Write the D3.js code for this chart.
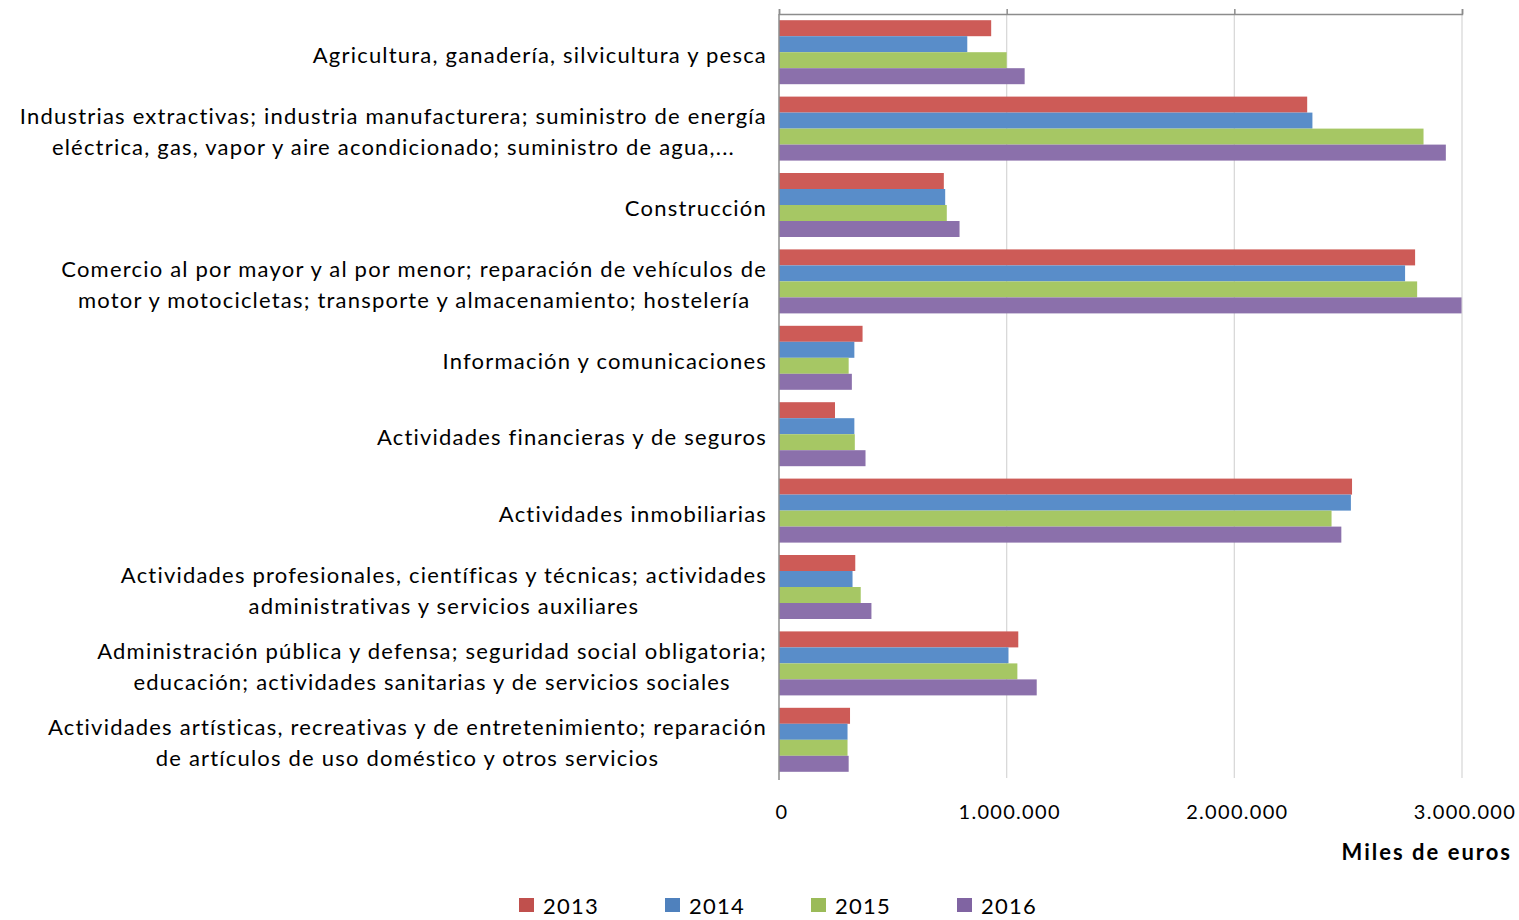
<!DOCTYPE html>
<html>
<head>
<meta charset="utf-8">
<script src="https://cdn.jsdelivr.net/npm/d3@7"></script>
<style>
  body { margin: 0; background: #fff; }
  svg { display: block; font-family: Lato, "Open Sans", sans-serif; }
</style>
</head>
<body>
<div id="chart"></div>
<script>
// sectores (miles de euros), 2013-2016
const categories = [
  ["Agricultura, ganadería, silvicultura y pesca"],
  ["Industrias extractivas; industria manufacturera; suministro de energía", "eléctrica, gas, vapor y aire acondicionado; suministro de agua,..."],
  ["Construcción"],
  ["Comercio al por mayor y al por menor; reparación de vehículos de", "motor y motocicletas; transporte y almacenamiento; hostelería"],
  ["Información y comunicaciones"],
  ["Actividades financieras y de seguros"],
  ["Actividades inmobiliarias"],
  ["Actividades profesionales, científicas y técnicas; actividades", "administrativas y servicios auxiliares"],
  ["Administración pública y defensa; seguridad social obligatoria;", "educación; actividades sanitarias y de servicios sociales"],
  ["Actividades artísticas, recreativas y de entretenimiento; reparación", "de artículos de uso doméstico y otros servicios"]
];
const years = ["2013", "2014", "2015", "2016"];
const v2013 = [932000, 2320000, 724000, 2794000, 367000, 246000, 2517000, 335000, 1051000, 312000];
const v2014 = [827000, 2343000, 730000, 2750000, 331000, 331000, 2512000, 323000, 1008000, 301000];
const v2015 = [1000000, 2831000, 737000, 2803000, 306000, 333000, 2427000, 359000, 1047000, 301000];
const v2016 = [1079000, 2929000, 793000, 2998000, 320000, 380000, 2470000, 406000, 1132000, 306000];
const xTicks = [0, 1000000, 2000000, 3000000];

const series = [v2013, v2014, v2015, v2016];
const colors = ["#CD5B57", "#598DC9", "#A6C764", "#8B70AB"];
const legendColors = ["#C0504D", "#4F81BD", "#9BBB59", "#8064A2"];

const width = 1519, height = 920;
const svg = d3.select("#chart").append("svg")
    .attr("width", width)
    .attr("height", height);

const x = d3.scaleLinear().domain([0, 3000000]).range([779, 1462]);
const y = d3.scaleBand().domain(d3.range(categories.length)).range([14, 778]);
const yInner = d3.scaleBand().domain(d3.range(years.length))
    .range([6.2, y.bandwidth() - 6.2]);

const fmt = d => d3.format(",")(d).replace(/,/g, ".");

// gridlines
svg.append("g").selectAll("line")
  .data(xTicks.slice(1))
  .join("line")
    .attr("x1", d => x(d)).attr("x2", d => x(d))
    .attr("y1", 14).attr("y2", 778)
    .attr("stroke", "#d9d9d9").attr("stroke-width", 1.3);

// bars
const groups = svg.append("g").selectAll("g")
  .data(categories)
  .join("g")
    .attr("transform", (d, i) => `translate(0,${y(i)})`);

groups.selectAll("rect")
  .data((d, i) => series.map((s, k) => ({k, v: s[i]})))
  .join("rect")
    .attr("x", x(0))
    .attr("y", d => yInner(d.k))
    .attr("width", d => x(d.v) - x(0))
    .attr("height", yInner.bandwidth())
    .attr("fill", d => colors[d.k]);

// top value axis (ticks only, labels drawn below)
const topAxis = svg.append("g")
    .attr("transform", "translate(0,14)")
    .call(d3.axisTop(x).tickValues(xTicks).tickSize(5).tickFormat(""));
topAxis.select(".domain").attr("stroke", "#8c8c8c").attr("stroke-width", 1.5);
topAxis.selectAll(".tick line").attr("stroke", "#8c8c8c").attr("stroke-width", 1.5);

// left category axis line
svg.append("line")
    .attr("x1", x(0)).attr("x2", x(0))
    .attr("y1", 14).attr("y2", 780)
    .attr("stroke", "#8c8c8c").attr("stroke-width", 1.5);

// tick labels at the bottom
svg.append("g").selectAll("text")
  .data(xTicks)
  .join("text")
    .attr("x", d => x(d) + 3)
    .attr("y", 819)
    .attr("text-anchor", "middle")
    .attr("font-size", 20)
    .attr("letter-spacing", 1.3)
    .attr("fill", "#000")
    .text(fmt);

// axis title
svg.append("text")
    .attr("x", 1512).attr("y", 860)
    .attr("text-anchor", "end")
    .attr("font-size", 22)
    .attr("letter-spacing", 2)
    .attr("font-weight", "bold")
    .text("Miles de euros");

// category labels: centered lines, block right-aligned
const lineH = 31;
categories.forEach((lines, i) => {
  const g = svg.append("g");
  const texts = lines.map((t, j) => g.append("text")
      .attr("font-size", 22)
      .attr("letter-spacing", 1.2)
      .attr("text-anchor", "middle")
      .attr("y", y(i) + y.bandwidth() / 2 + 11 + (j - (lines.length - 1) / 2) * lineH)
      .text(t));
  const maxW = d3.max(texts, t => t.node().getComputedTextLength());
  texts.forEach(t => t.attr("x", 767 - maxW / 2));
});

// legend
const legend = svg.append("g").selectAll("g")
  .data(years)
  .join("g")
    .attr("transform", (d, i) => `translate(${519 + i * 146},898)`);
legend.append("rect")
    .attr("y", 0).attr("width", 15).attr("height", 14)
    .attr("fill", (d, i) => legendColors[i]);
legend.append("text")
    .attr("x", 24).attr("y", 16)
    .attr("font-size", 22)
    .attr("letter-spacing", 1.2)
    .text(d => d);
</script>
</body>
</html>
